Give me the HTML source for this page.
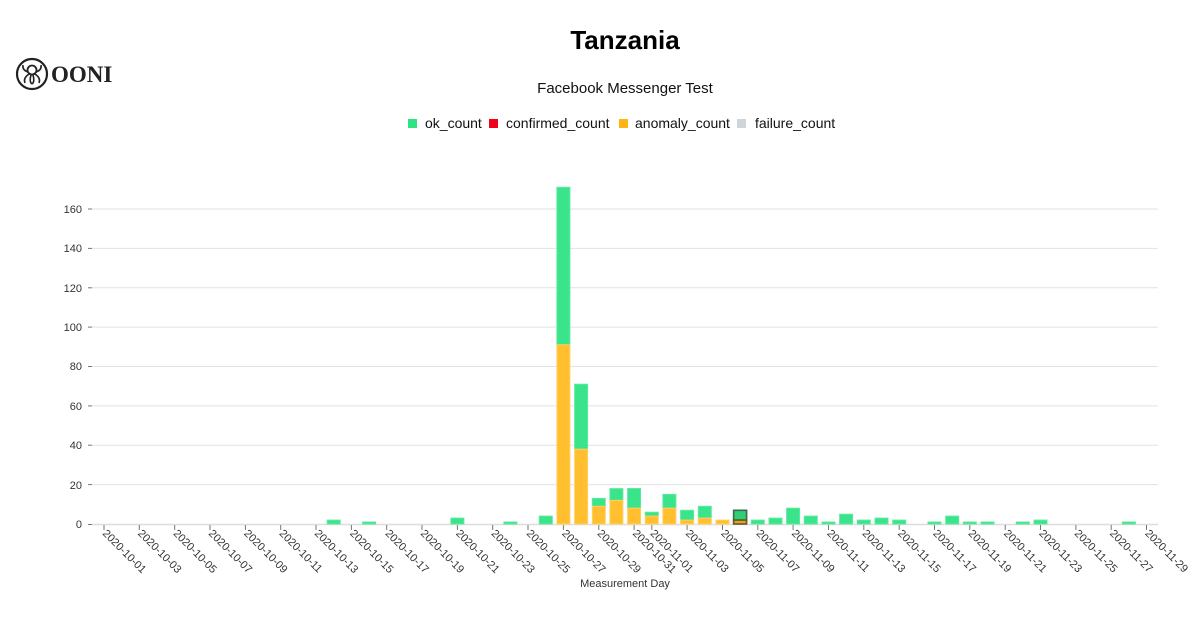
<!DOCTYPE html>
<html><head><meta charset="utf-8"><style>
html,body{margin:0;padding:0;background:#fff;width:1200px;height:635px;overflow:hidden}
svg{display:block}
</style></head><body>
<svg width="1200" height="635" viewBox="0 0 1200 635" xmlns="http://www.w3.org/2000/svg" font-family="Liberation Sans, sans-serif">
<g transform="translate(32,74)">
<circle r="15" fill="none" stroke="#222" stroke-width="2.2"/>
<circle cx="0" cy="-4" r="4.5" fill="none" stroke="#222" stroke-width="1.8"/>
<path d="M-3 0 Q-9 4 -7 9 M3 0 Q9 4 7 9 M-1 1 Q-3 8 0 10 M1 1 Q3 8 0 10 M-4 -2 Q-10 -4 -9 -9 M4 -2 Q10 -4 9 -9" fill="none" stroke="#222" stroke-width="1.6"/>
</g>
<text x="51" y="82" font-family="Liberation Serif, serif" font-weight="bold" font-size="23" fill="#222">OONI</text>
<text x="625" y="49" text-anchor="middle" font-size="26" font-weight="bold" fill="#000">Tanzania</text>
<text x="625" y="93" text-anchor="middle" font-size="15" fill="#111">Facebook Messenger Test</text>
<g font-size="14" fill="#111">
<rect x="408" y="119" width="9" height="9" fill="#2fe384"/><text x="425" y="128">ok_count</text>
<rect x="489" y="119" width="9" height="9" fill="#f0021c"/><text x="506" y="128">confirmed_count</text>
<rect x="619" y="119" width="9" height="9" fill="#ffb413"/><text x="635" y="128">anomaly_count</text>
<rect x="737" y="119" width="9" height="9" fill="#ced4da"/><text x="755" y="128">failure_count</text>
</g>
<g stroke="#e2e2e2" stroke-width="1">
<line x1="92" y1="209" x2="1158" y2="209"/>
<line x1="92" y1="248.4" x2="1158" y2="248.4"/>
<line x1="92" y1="287.8" x2="1158" y2="287.8"/>
<line x1="92" y1="327.1" x2="1158" y2="327.1"/>
<line x1="92" y1="366.5" x2="1158" y2="366.5"/>
<line x1="92" y1="405.9" x2="1158" y2="405.9"/>
<line x1="92" y1="445.2" x2="1158" y2="445.2"/>
<line x1="92" y1="484.6" x2="1158" y2="484.6"/>
</g>
<line x1="92" y1="524.5" x2="1158" y2="524.5" stroke="#ddd" stroke-width="1.5"/>
<g font-size="11" fill="#333" text-anchor="end">
<text x="82" y="213">160</text><text x="82" y="252">140</text><text x="82" y="292">120</text>
<text x="82" y="331">100</text><text x="82" y="370">80</text><text x="82" y="410">60</text>
<text x="82" y="449">40</text><text x="82" y="489">20</text><text x="82" y="528">0</text>
</g>
<g stroke="#777" stroke-width="1">
<line x1="88" y1="209" x2="92" y2="209"/><line x1="88" y1="248.4" x2="92" y2="248.4"/><line x1="88" y1="287.8" x2="92" y2="287.8"/><line x1="88" y1="327.1" x2="92" y2="327.1"/><line x1="88" y1="366.5" x2="92" y2="366.5"/><line x1="88" y1="405.9" x2="92" y2="405.9"/><line x1="88" y1="445.2" x2="92" y2="445.2"/><line x1="88" y1="484.6" x2="92" y2="484.6"/><line x1="88" y1="524.5" x2="92" y2="524.5"/>
</g>
<g fill="#2fe384" stroke="#5ee9a0" stroke-width="1" fill-opacity="0.95">
<rect x="327.2" y="520.1" width="13" height="3.9"/>
<rect x="362.6" y="522" width="13" height="2"/>
<rect x="450.9" y="518.1" width="13" height="5.9"/>
<rect x="503.9" y="522" width="13" height="2"/>
<rect x="539.3" y="516.1" width="13" height="7.9"/>
<rect x="556.9" y="187.3" width="13" height="157.5"/>
<rect x="574.6" y="384.2" width="13" height="65"/>
<rect x="592.3" y="498.4" width="13" height="7.9"/>
<rect x="609.9" y="488.6" width="13" height="11.8"/>
<rect x="627.6" y="488.5" width="13" height="19.7"/>
<rect x="645.3" y="512.2" width="13" height="3.9"/>
<rect x="662.9" y="494.4" width="13" height="13.8"/>
<rect x="680.6" y="510.3" width="13" height="9.8"/>
<rect x="698.3" y="506.3" width="13" height="11.8"/>
<rect x="751.3" y="520.1" width="13" height="3.9"/>
<rect x="769" y="518.1" width="13" height="5.9"/>
<rect x="786.6" y="508.2" width="13" height="15.8"/>
<rect x="804.3" y="516.1" width="13" height="7.9"/>
<rect x="822" y="522" width="13" height="2"/>
<rect x="839.6" y="514.2" width="13" height="9.8"/>
<rect x="857.3" y="520.1" width="13" height="3.9"/>
<rect x="875" y="518.1" width="13" height="5.9"/>
<rect x="892.7" y="520.1" width="13" height="3.9"/>
<rect x="928" y="522" width="13" height="2"/>
<rect x="945.7" y="516.1" width="13" height="7.9"/>
<rect x="963.3" y="522" width="13" height="2"/>
<rect x="981" y="522" width="13" height="2"/>
<rect x="1016.3" y="522" width="13" height="2"/>
<rect x="1034" y="520.1" width="13" height="3.9"/>
<rect x="1122.4" y="522" width="13" height="2"/>
</g>
<g fill="#ffbf2e" stroke="#ffd066" stroke-width="1">
<rect x="556.9" y="344.8" width="13" height="179.2"/>
<rect x="574.6" y="449.2" width="13" height="74.8"/>
<rect x="592.3" y="506.3" width="13" height="17.7"/>
<rect x="609.9" y="500.4" width="13" height="23.6"/>
<rect x="627.6" y="508.2" width="13" height="15.8"/>
<rect x="645.3" y="516.1" width="13" height="7.9"/>
<rect x="662.9" y="508.2" width="13" height="15.8"/>
<rect x="680.6" y="520.1" width="13" height="3.9"/>
<rect x="698.3" y="518.1" width="13" height="5.9"/>
<rect x="716" y="520.1" width="13" height="3.9"/>
</g>
<rect x="733.6" y="510.3" width="13" height="9.8" fill="#2ccf78" stroke="#3d6a4c" stroke-width="1.6"/>
<rect x="733.6" y="520.1" width="13" height="3.9" fill="#d9a52a" stroke="#6b5520" stroke-width="1.6"/>
<g stroke="#777" stroke-width="1">
<line x1="104" y1="525" x2="104" y2="530"/><line x1="139.3" y1="525" x2="139.3" y2="530"/><line x1="174.7" y1="525" x2="174.7" y2="530"/><line x1="210" y1="525" x2="210" y2="530"/><line x1="245.4" y1="525" x2="245.4" y2="530"/><line x1="280.7" y1="525" x2="280.7" y2="530"/><line x1="316" y1="525" x2="316" y2="530"/><line x1="351.4" y1="525" x2="351.4" y2="530"/><line x1="386.7" y1="525" x2="386.7" y2="530"/><line x1="422" y1="525" x2="422" y2="530"/><line x1="457.4" y1="525" x2="457.4" y2="530"/><line x1="492.7" y1="525" x2="492.7" y2="530"/><line x1="528" y1="525" x2="528" y2="530"/><line x1="563.4" y1="525" x2="563.4" y2="530"/><line x1="598.8" y1="525" x2="598.8" y2="530"/><line x1="634.1" y1="525" x2="634.1" y2="530"/><line x1="651.8" y1="525" x2="651.8" y2="530"/><line x1="687.1" y1="525" x2="687.1" y2="530"/><line x1="722.5" y1="525" x2="722.5" y2="530"/><line x1="757.8" y1="525" x2="757.8" y2="530"/><line x1="793.1" y1="525" x2="793.1" y2="530"/><line x1="828.5" y1="525" x2="828.5" y2="530"/><line x1="863.8" y1="525" x2="863.8" y2="530"/><line x1="899.2" y1="525" x2="899.2" y2="530"/><line x1="934.5" y1="525" x2="934.5" y2="530"/><line x1="969.8" y1="525" x2="969.8" y2="530"/><line x1="1005.2" y1="525" x2="1005.2" y2="530"/><line x1="1040.5" y1="525" x2="1040.5" y2="530"/><line x1="1075.9" y1="525" x2="1075.9" y2="530"/><line x1="1111.2" y1="525" x2="1111.2" y2="530"/><line x1="1146.5" y1="525" x2="1146.5" y2="530"/>
</g>
<g font-size="11" fill="#333">
<text transform="translate(102,534) rotate(45)">2020-10-01</text>
<text transform="translate(137.3,534) rotate(45)">2020-10-03</text>
<text transform="translate(172.7,534) rotate(45)">2020-10-05</text>
<text transform="translate(208,534) rotate(45)">2020-10-07</text>
<text transform="translate(243.4,534) rotate(45)">2020-10-09</text>
<text transform="translate(278.7,534) rotate(45)">2020-10-11</text>
<text transform="translate(314,534) rotate(45)">2020-10-13</text>
<text transform="translate(349.4,534) rotate(45)">2020-10-15</text>
<text transform="translate(384.7,534) rotate(45)">2020-10-17</text>
<text transform="translate(420,534) rotate(45)">2020-10-19</text>
<text transform="translate(455.4,534) rotate(45)">2020-10-21</text>
<text transform="translate(490.7,534) rotate(45)">2020-10-23</text>
<text transform="translate(526,534) rotate(45)">2020-10-25</text>
<text transform="translate(561.4,534) rotate(45)">2020-10-27</text>
<text transform="translate(596.8,534) rotate(45)">2020-10-29</text>
<text transform="translate(632.1,534) rotate(45)">2020-10-31</text>
<text transform="translate(649.8,534) rotate(45)">2020-11-01</text>
<text transform="translate(685.1,534) rotate(45)">2020-11-03</text>
<text transform="translate(720.5,534) rotate(45)">2020-11-05</text>
<text transform="translate(755.8,534) rotate(45)">2020-11-07</text>
<text transform="translate(791.1,534) rotate(45)">2020-11-09</text>
<text transform="translate(826.5,534) rotate(45)">2020-11-11</text>
<text transform="translate(861.8,534) rotate(45)">2020-11-13</text>
<text transform="translate(897.2,534) rotate(45)">2020-11-15</text>
<text transform="translate(932.5,534) rotate(45)">2020-11-17</text>
<text transform="translate(967.8,534) rotate(45)">2020-11-19</text>
<text transform="translate(1003.2,534) rotate(45)">2020-11-21</text>
<text transform="translate(1038.5,534) rotate(45)">2020-11-23</text>
<text transform="translate(1073.9,534) rotate(45)">2020-11-25</text>
<text transform="translate(1109.2,534) rotate(45)">2020-11-27</text>
<text transform="translate(1144.5,534) rotate(45)">2020-11-29</text>
</g>
<text x="625" y="587" text-anchor="middle" font-size="11" fill="#333">Measurement Day</text>
</svg>
</body></html>
